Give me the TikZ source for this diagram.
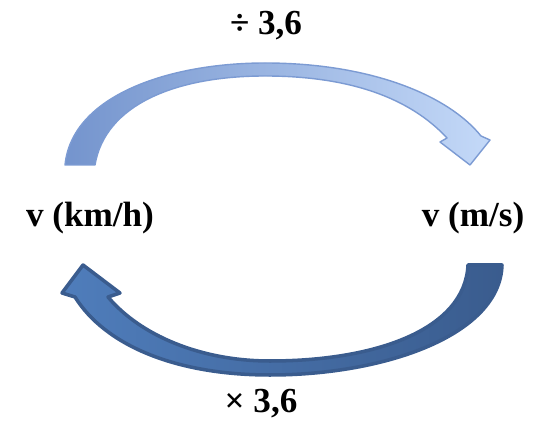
\documentclass[tikz,border=0pt]{standalone}
\usepackage{fontspec}
\setmainfont{Liberation Serif}
\usetikzlibrary{positioning}
\definecolor{azulborde}{HTML}{7C9BD3}
\definecolor{azulizq}{HTML}{7494CD}
\definecolor{azulder}{HTML}{C4D9F8}
\definecolor{marino}{HTML}{3A5C8E}
\definecolor{azulmedio}{HTML}{4F7DBB}
\tikzset{
  every picture/.style={font=\fontsize{20}{24}\selectfont\bfseries},
  etiqueta/.style={anchor=base, inner sep=0pt, text=black},
  flechasup/.style={draw=azulborde, line width=0.8pt, left color=azulizq, right color=azulder, line join=round},
  flechainf/.style={draw=marino, line width=2pt, left color=azulmedio, right color=marino, line join=round},
}

\begin{document}
\begin{tikzpicture}[x=0.02cm, y=-0.02cm]
  \useasboundingbox (0,0) rectangle (547,421);
  \path[flechasup] (65,165) .. controls (72,95) and (170,63) .. (265,63)
    .. controls (370,63) and (448,95) .. (481,136)
    -- (490,140) -- (470,165) -- (440,142) -- (447,138)
    .. controls (410,98) and (350,76) .. (265,76)
    .. controls (175,76) and (105,105) .. (95,165) -- cycle;
  \path[flechainf] (502,265) .. controls (500,335) and (385,375) .. (270,375)
    .. controls (175,375) and (105,345) .. (75,297)
    -- (62,293) -- (83,265) -- (120,293) -- (108,297)
    .. controls (140,335) and (200,361) .. (270,361)
    .. controls (375,361) and (465,330) .. (468,265) -- cycle;
  \node[etiqueta] (div) at (266,35) {÷ 3,6};
  \node[etiqueta] (kmh) at (90,227) {v (km/h)};
  \node[etiqueta] (ms) at (473,227) {v (m/s)};
  \node[etiqueta] (mul) at (261,413) {× 3,6};
\end{tikzpicture}
\end{document}
